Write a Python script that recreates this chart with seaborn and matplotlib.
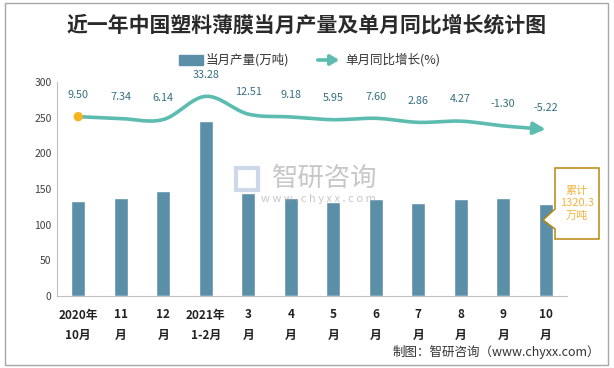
import numpy as np
import pandas as pd
import matplotlib
matplotlib.use("Agg")
import matplotlib.pyplot as plt
import seaborn as sns
from matplotlib.patches import Rectangle, Polygon, FancyArrowPatch

categories = ["2020年\n10月", "11\n月", "12\n月", "2021年\n1-2月", "3\n月", "4\n月",
              "5\n月", "6\n月", "7\n月", "8\n月", "9\n月", "10\n月"]
production = [133.4, 137.6, 147.5, 245.0, 144.6, 137.6, 132.0, 136.0, 130.6, 136.0, 137.6, 129.0]
growth = [9.50, 7.34, 6.14, 33.28, 12.51, 9.18, 5.95, 7.60, 2.86, 4.27, -1.30, -5.22]
growth_labels = ["9.50", "7.34", "6.14", "33.28", "12.51", "9.18", "5.95", "7.60",
                 "2.86", "4.27", "-1.30", "-5.22"]
y_ticks = [0, 50, 100, 150, 200, 250, 300]
cumulative_text = "累计\n1320.3\n万吨"

sns.set_theme(style="white")
plt.rcParams['font.family'] = ['Noto Sans CJK SC', 'DejaVu Sans']
plt.rcParams['axes.unicode_minus'] = False

W, H = 614, 368
fig = plt.figure(figsize=(W / 100, H / 100), dpi=100)
ax = fig.add_axes([57 / W, 1 - 296 / H, 510 / W, 214 / H])

bar_color = "#5b8fa8"
line_color = "#5cbcaf"
label_color = "#356f80"

df = pd.DataFrame({"cat": categories, "prod": production})
sns.barplot(data=df, x="cat", y="prod", ax=ax, color=bar_color, width=0.34,
            saturation=1, order=categories)
ax.set_xlim(-0.5, len(categories) - 0.5)
ax.set_ylim(0, 300)
ax.set_yticks(y_ticks)
ax.set_yticklabels([str(v) for v in y_ticks], fontsize=7.5, color="#404040")
ax.set_xlabel("")
ax.set_ylabel("")
ax.set_xticks(range(len(categories)))
ax.set_xticklabels(categories, fontsize=8.5, fontweight="bold", color="#222222",
                   linespacing=1.7)
ax.tick_params(axis="x", which="major", length=0, pad=9)
ax.tick_params(axis="y", length=0, pad=4)
ax.set_xticks(np.arange(-0.5, len(categories), 1.0), minor=True)
ax.tick_params(axis="x", which="minor", length=4, color="#c8c8c8", width=0.8)
for s in ["top", "right"]:
    ax.spines[s].set_visible(False)
for s in ["left", "bottom"]:
    ax.spines[s].set_color("#c0c0c0")
    ax.spines[s].set_linewidth(0.8)
ax.grid(False)

# secondary axis for the growth line
ax2 = ax.twinx()
ax2.set_ylim(-200, 50)
ax2.set_axis_off()

x = np.arange(len(growth), dtype=float)
y = np.array(growth, dtype=float)
# smooth (Catmull-Rom style Bezier) curve through the data points
xs_all, ys_all = [], []
n = len(x)
for i in range(n - 1):
    p0 = np.array([x[max(i - 1, 0)], y[max(i - 1, 0)]])
    p1 = np.array([x[i], y[i]])
    p2 = np.array([x[i + 1], y[i + 1]])
    p3 = np.array([x[min(i + 2, n - 1)], y[min(i + 2, n - 1)]])
    c1 = p1 + (p2 - p0) / 6
    c2 = p2 - (p3 - p1) / 6
    t = np.linspace(0, 1, 30)[:, None]
    pts = (1 - t) ** 3 * p1 + 3 * (1 - t) ** 2 * t * c1 + 3 * (1 - t) * t ** 2 * c2 + t ** 3 * p2
    if i > 0:
        pts = pts[1:]
    xs_all.extend(pts[:, 0])
    ys_all.extend(pts[:, 1])
xs_all = np.array(xs_all)
ys_all = np.array(ys_all)
cut = len(xs_all) - 6
sns.lineplot(x=xs_all[:cut], y=ys_all[:cut], ax=ax2, color=line_color, linewidth=2.6,
             sort=False, estimator=None)
ax2.annotate("", xy=(xs_all[-1], ys_all[-1]), xytext=(xs_all[cut - 2], ys_all[cut - 2]),
             arrowprops=dict(arrowstyle="-|>,head_length=0.6,head_width=0.3",
                             color=line_color, lw=2.6, shrinkA=0, shrinkB=0))
ax2.scatter([x[0]], [y[0]], s=45, color="#f5b41e", zorder=5, edgecolors="none")
for xi, yi, lab in zip(x, y, growth_labels):
    ax2.annotate(lab, xy=(xi, yi), xytext=(0, 12), textcoords="offset points",
                 ha="center", va="bottom", fontsize=7.8, color=label_color)

ax2.set_xlim(-0.5, len(categories) - 0.5)

# title
fig.text(0.5, 1 - 25 / H, "近一年中国塑料薄膜当月产量及单月同比增长统计图", ha="center",
         va="center", fontsize=15, fontweight="bold", color="#2a2a2a")

# legend (manual)
fig.patches.append(Rectangle((179 / W, 1 - 65 / H), 24 / W, 10 / H,
                             transform=fig.transFigure, color=bar_color))
fig.text(206 / W, 1 - 60 / H, "当月产量(万吨)", ha="left", va="center", fontsize=9,
         color="#333333")
fig.patches.append(FancyArrowPatch((315 / W, 1 - 60 / H), (342 / W, 1 - 60 / H),
                                   transform=fig.transFigure, color=line_color,
                                   arrowstyle="-|>,head_length=0.5,head_width=0.3",
                                   lw=2.6, mutation_scale=10))
fig.text(345 / W, 1 - 60 / H, "单月同比增长(%)", ha="left", va="center", fontsize=9,
         color="#333333")

# watermark
fig.text(325 / W, 1 - 178 / H, "智研咨询", ha="center", va="center", fontsize=19,
         color="#9a9a9a", alpha=0.55)
fig.text(318 / W, 1 - 199 / H, "w w w . c h y x x . c o m", ha="center", va="center",
         fontsize=8, color="#9a9a9a", alpha=0.55)
fig.patches.append(Rectangle((236 / W, 1 - 190 / H), 22 / W, 22 / H,
                             transform=fig.transFigure, facecolor="none",
                             edgecolor="#b8c8e0", lw=3, alpha=0.7))

# callout box
bx0, bx1, by0, by1 = 555, 599, 168, 239
poly = [(bx0, by0), (bx1, by0), (bx1, by1), (bx0, by1), (bx0, 229), (543, 220), (bx0, 209)]
fig.patches.append(Polygon([(px / W, 1 - py / H) for px, py in poly], closed=True,
                           transform=fig.transFigure, facecolor="white",
                           edgecolor="#b8860b", lw=1.1, zorder=10))
fig.text((bx0 + bx1) / 2 / W, 1 - (by0 + by1) / 2 / H, cumulative_text, ha="center",
         va="center", fontsize=8, color="#f2b440", linespacing=1.35, zorder=11)

# source
fig.text(600 / W, 1 - 352 / H, "制图：智研咨询（www.chyxx.com）", ha="right", va="center",
         fontsize=9, color="#333333")

# border
fig.patches.append(Rectangle((5 / W, 3 / H), 603 / W, 362 / H, transform=fig.transFigure,
                             facecolor="none", edgecolor="#a8a8a8", lw=1))

fig.savefig("out.png", dpi=100)
